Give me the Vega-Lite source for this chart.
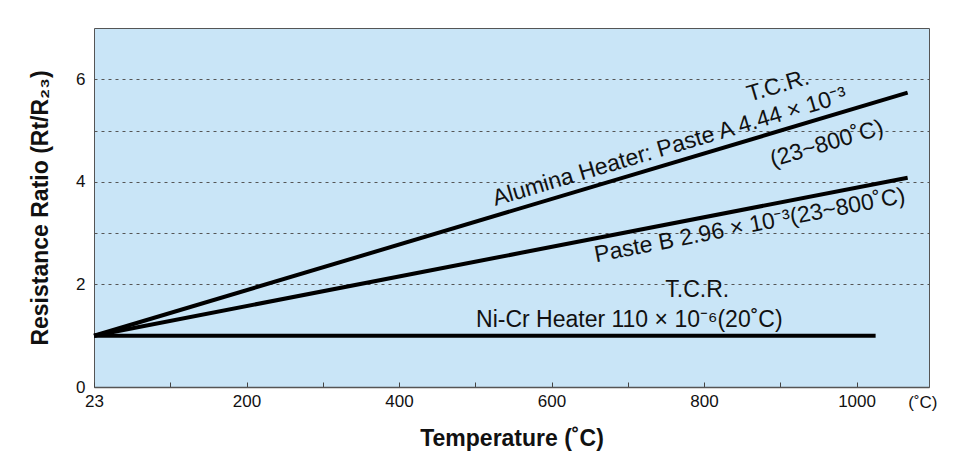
{
  "$schema": "https://vega.github.io/schema/vega-lite/v6.json",
  "width": 835,
  "height": 359,
  "autosize": {"type": "none"},
  "padding": {"left": 94, "top": 28, "right": 29, "bottom": 69},
  "background": "white",
  "config": {
    "font": "Liberation Sans",
    "view": {"fill": "#C9E5F7", "stroke": "#555555", "strokeWidth": 1}
  },
  "datasets": {
    "lines": [
      {"series": "Alumina Heater: Paste A", "temp": 0, "ratio": 1.0},
      {"series": "Alumina Heater: Paste A", "temp": 1067, "ratio": 5.74},
      {"series": "Paste B", "temp": 0, "ratio": 1.0},
      {"series": "Paste B", "temp": 1067, "ratio": 4.08},
      {"series": "Ni-Cr Heater", "temp": 0, "ratio": 1.0},
      {"series": "Ni-Cr Heater", "temp": 1025, "ratio": 1.0}
    ],
    "notes": [
      {"group": "A", "text": "Alumina Heater: Paste A  4.44 × 10⁻³", "temp": 755, "ratio": 4.68},
      {"group": "A", "text": "T.C.R.", "temp": 897, "ratio": 5.87},
      {"group": "A", "text": "(23~800˚C)", "temp": 961, "ratio": 4.745},
      {"group": "B", "text": "Paste B  2.96 × 10⁻³(23~800˚C)", "temp": 860, "ratio": 3.15},
      {"group": "N", "text": "T.C.R.", "temp": 791, "ratio": 1.9},
      {"group": "N", "text": "Ni-Cr Heater 110 × 10⁻⁶(20˚C)", "temp": 702, "ratio": 1.31},
      {"group": "U", "text": "(˚C)", "temp": 1087, "ratio": -0.32}
    ]
  },
  "layer": [
    {
      "data": {"name": "lines"},
      "mark": {"type": "line", "color": "black", "strokeWidth": 4, "strokeCap": "butt"},
      "encoding": {
        "x": {
          "field": "temp", "type": "quantitative",
          "scale": {"domain": [0, 1095], "nice": false, "zero": false},
          "axis": {
            "values": [0, 100, 200, 300, 400, 500, 600, 700, 800, 900, 1000],
            "format": "d",
            "labelExpr": "datum.value == 0 ? '23' : (datum.value % 200 == 0 ? datum.label : '')",
            "grid": false,
            "tickSize": -5,
            "tickColor": "#444444",
            "domainColor": "#555555",
            "domainWidth": 1.5,
            "labelFontSize": 17,
            "labelColor": "#111111",
            "labelPadding": 11,
            "labelFlush": false,
            "title": "Temperature (˚C)",
            "titleFontSize": 23,
            "titleFontWeight": "bold",
            "titleColor": "#111111",
            "titlePadding": 18
          }
        },
        "y": {
          "field": "ratio", "type": "quantitative",
          "scale": {"domain": [0, 7], "nice": false},
          "axis": {
            "values": [0, 2, 3, 4, 5, 6],
            "labelExpr": "datum.value % 2 == 0 ? datum.label : ''",
            "ticks": false,
            "domain": false,
            "grid": true,
            "gridDash": [3, 4],
            "gridColor": "#555555",
            "gridOpacity": {"condition": {"test": "datum.value == 0", "value": 0}, "value": 1},
            "labelFontSize": 17,
            "labelColor": "#111111",
            "labelPadding": 9,
            "title": "Resistance Ratio (Rt/R₂₃)",
            "titleFontSize": 23,
            "titleFontWeight": "bold",
            "titleColor": "#111111",
            "titlePadding": 23
          }
        },
        "detail": {"field": "series", "type": "nominal"}
      }
    },
    {
      "data": {"name": "notes"},
      "transform": [{"filter": "datum.group == 'A'"}],
      "mark": {"type": "text", "angle": 343.5, "fontSize": 23, "color": "#111111", "baseline": "middle", "align": "center"},
      "encoding": {
        "x": {"field": "temp", "type": "quantitative"},
        "y": {"field": "ratio", "type": "quantitative"},
        "text": {"field": "text"}
      }
    },
    {
      "data": {"name": "notes"},
      "transform": [{"filter": "datum.group == 'B'"}],
      "mark": {"type": "text", "angle": 349.1, "fontSize": 23, "color": "#111111", "baseline": "middle", "align": "center"},
      "encoding": {
        "x": {"field": "temp", "type": "quantitative"},
        "y": {"field": "ratio", "type": "quantitative"},
        "text": {"field": "text"}
      }
    },
    {
      "data": {"name": "notes"},
      "transform": [{"filter": "datum.group == 'N'"}],
      "mark": {"type": "text", "fontSize": 23, "color": "#111111", "baseline": "middle", "align": "center"},
      "encoding": {
        "x": {"field": "temp", "type": "quantitative"},
        "y": {"field": "ratio", "type": "quantitative"},
        "text": {"field": "text"}
      }
    },
    {
      "data": {"name": "notes"},
      "transform": [{"filter": "datum.group == 'U'"}],
      "mark": {"type": "text", "fontSize": 17, "color": "#111111", "baseline": "middle", "align": "center"},
      "encoding": {
        "x": {"field": "temp", "type": "quantitative"},
        "y": {"field": "ratio", "type": "quantitative"},
        "text": {"field": "text"}
      }
    }
  ]
}
